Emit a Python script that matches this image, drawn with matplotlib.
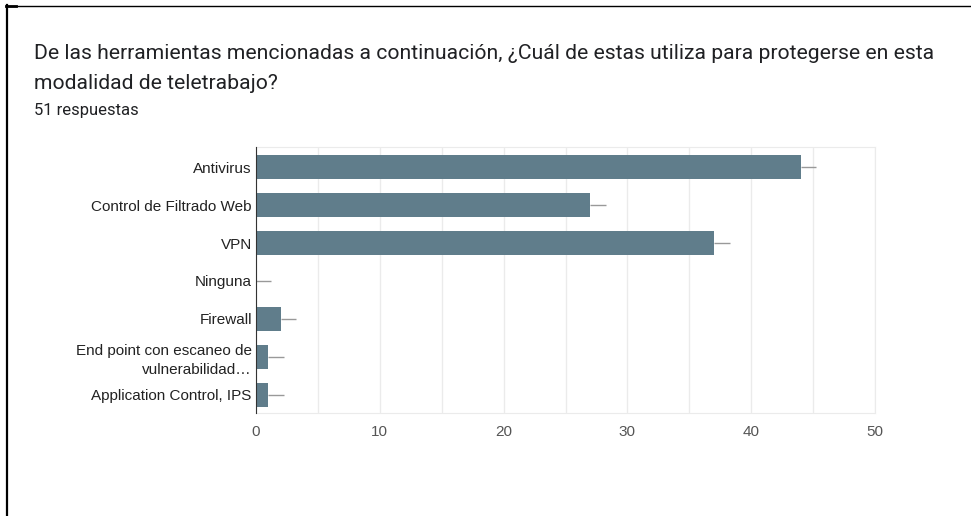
import matplotlib
matplotlib.use('Agg')
import matplotlib.pyplot as plt
import numpy as np

# data
categories = ['Antivirus', 'Control de Filtrado Web', 'VPN', 'Ninguna', 'Firewall',
              'End point con escaneo de\nvulnerabilidad\u2026', 'Application Control, IPS']
counts = [44, 27, 37, 0, 2, 1, 1]
xticks = [0, 10, 20, 30, 40, 50]

title_1 = 'De las herramientas mencionadas a continuación, ¿Cuál de estas utiliza para protegerse en esta'
title_2 = 'modalidad de teletrabajo?'
subtitle = '51 respuestas'

bar_color = '#607d8b'

fig = plt.figure(figsize=(9.71, 5.16), dpi=100)
fig.patch.set_facecolor('white')

# frame lines of the screenshot
fig.add_artist(plt.Line2D([7 / 971, 7 / 971], [0, 1 - 5 / 516], color='black', lw=1.6, transform=fig.transFigure))
fig.add_artist(plt.Line2D([6 / 971, 1], [1 - 5.5 / 516, 1 - 5.5 / 516], color='black', lw=1.0, transform=fig.transFigure))
fig.add_artist(plt.Line2D([6 / 971, 16 / 971], [1 - 6 / 516, 1 - 6 / 516], color='black', lw=2.0, transform=fig.transFigure))

# titles
fig.text(34 / 971, 1 - 59 / 516, title_1, fontsize=15.2, family='Roboto', color='#202124', va='baseline')
fig.text(34 / 971, 1 - 89 / 516, title_2, fontsize=15.2, family='Roboto', color='#202124', va='baseline')
fig.text(34 / 971, 1 - 115 / 516, subtitle, fontsize=12, family='Roboto', color='#202124', va='baseline')

ax = fig.add_axes([256 / 971, 1 - 413 / 516, (875 - 256) / 971, (413 - 147) / 516])
y = np.arange(len(categories))
ax.barh(y, counts, height=0.63, color=bar_color, zorder=3)
# little whisker lines at the end of each bar
ax.errorbar(counts, y, xerr=[np.zeros(len(counts)), np.full(len(counts), 1.25)],
            fmt='none', ecolor='#999999', elinewidth=1, capsize=0, zorder=2)

ax.set_xlim(0, 50)
ax.set_ylim(6.48, -0.53)
ax.set_xticks(xticks)
ax.set_xticks(np.arange(5, 50, 10), minor=True)
ax.set_yticks(y)
ax.set_yticklabels(categories, family='Liberation Sans', fontsize=11, color='#222222', linespacing=1.45)
ax.set_xticklabels([str(t) for t in xticks], family='Liberation Sans', fontsize=11, color='#555555')
ax.tick_params(axis='both', which='both', length=0)
ax.tick_params(axis='x', pad=9)
ax.tick_params(axis='y', pad=3)
ax.grid(axis='x', which='both', color='#ebebeb', lw=1, zorder=0)
for s in ['top', 'right', 'bottom']:
    ax.spines[s].set_color('#ebebeb')
ax.spines['left'].set_color('#333333')
ax.spines['left'].set_zorder(4)

fig.savefig('out.png', dpi=100)
